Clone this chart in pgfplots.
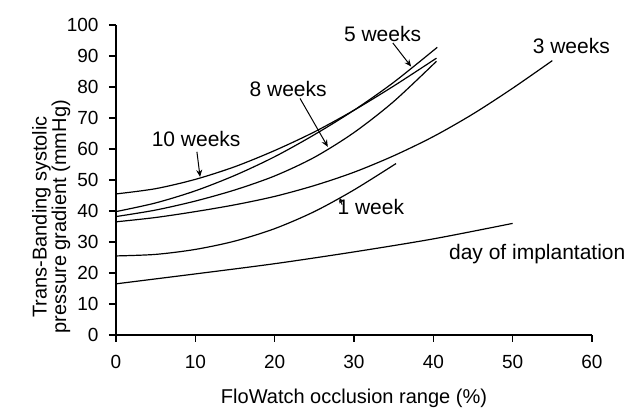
\documentclass[border=0pt]{standalone}
\usepackage{fontspec}
\setmainfont{Liberation Sans}
\usepackage{pgfplots}
\pgfplotsset{compat=1.18}
\usetikzlibrary{arrows.meta}
\pgfplotsset{curve/.style={black, line width=1.2bp, smooth, no markers}}

\begin{document}
\begin{tikzpicture}
\begin{axis}[
    scale only axis,
    width=476bp, height=310bp,
    xmin=0, xmax=60, ymin=0, ymax=100,
    axis lines*=left,
    xtick={0,10,...,60},
    ytick={0,10,...,100},
    tick align=outside,
    major tick length=7bp,
    axis line style={line width=1.2bp},
    tick style={line width=1.1bp, black},
    ticklabel style={font=\fontsize{19bp}{22bp}\selectfont},
    yticklabel style={xshift=-7bp},
    xticklabel style={yshift=-10bp},
    /pgf/number format/assume math mode=true,
    xlabel={FloWatch occlusion range (\%)},
    ylabel={Trans-Banding systolic\\pressure gradient (mmHg)},
    every axis x label/.style={at={(rel axis cs:0.5,-0.203)}, anchor=center,
        font=\fontsize{20bp}{23bp}\selectfont},
    every axis y label/.style={at={(rel axis cs:-0.136,0.381)}, anchor=center,
        rotate=90, align=center, font=\fontsize{20bp}{15bp}\selectfont},
    clip=false,
]

% day of implantation
\addplot[curve] coordinates {(0,16.5) (10,19.7) (20,23.0) (30,26.8) (40,31.0) (50,36.0)};
% 1 week
\addplot[curve] coordinates {(0,25.5) (5,26.0) (10,27.6) (15,30.3) (20,34.3) (25,39.8) (30,46.8) (35.3,55.3)};
% 3 weeks
\addplot[curve] coordinates {(0,36.5) (5,37.9) (10,39.8) (15,42.0) (20,44.7) (25,48.2) (30,52.5) (35,57.8) (40,64.0) (45,71.3) (50,79.6) (55,88.5)};
% 8 weeks
\addplot[curve] coordinates {(0,38.2) (5,40.3) (10,43.2) (15,46.8) (20,51.3) (25,57.3) (30,65.3) (35,75.3) (40.4,88.3)};
% 5 weeks
\addplot[curve] coordinates {(0,39.8) (5,42.6) (10,46.5) (15,51.5) (20,57.5) (25,64.6) (30,72.5) (35,81.5) (40.5,92.8)};
% 10 weeks
\addplot[curve] coordinates {(0,45.5) (5,47.2) (10,50.2) (15,54.3) (20,59.5) (25,65.5) (30,72.5) (35,80.3) (40.4,89.3)};

\begin{scope}[every node/.style={font=\fontsize{21bp}{24bp}\selectfont, inner sep=0pt}]
\node at (axis cs:33.6,97.1) {5 weeks};
\node at (axis cs:21.7,79.4) {8 weeks};
\node at (axis cs:10.1,63.1) {10 weeks};
\node at (axis cs:57.4,93.1) {3 weeks};
\node[anchor=west] at (axis cs:27.9,41.4) {1 week};
\node at (axis cs:53.1,26.1) {day of implantation};
\end{scope}
\draw[-{Stealth[length=7bp,width=6bp]}, line width=1bp] (axis cs:34.9,94.2) -- (axis cs:37.2,86.6);
\draw[-{Stealth[length=7bp,width=6bp]}, line width=1bp] (axis cs:23.2,76.3) -- (axis cs:26.7,60.7);
\draw[-{Stealth[length=7bp,width=6bp]}, line width=1bp] (axis cs:10.2,59.1) -- (axis cs:10.6,51.0);
\draw[-{Stealth[length=4bp,width=4bp]}, line width=0.8bp] (axis cs:28.5,42.0) -- (axis cs:28.2,44.2);

\coordinate (bl) at (axis cs:-14.62,-24.19);
\coordinate (tr) at (axis cs:64.54,108.06);
\end{axis}
\pgfresetboundingbox
\path[use as bounding box] (bl) rectangle (tr);
\end{tikzpicture}
\end{document}
